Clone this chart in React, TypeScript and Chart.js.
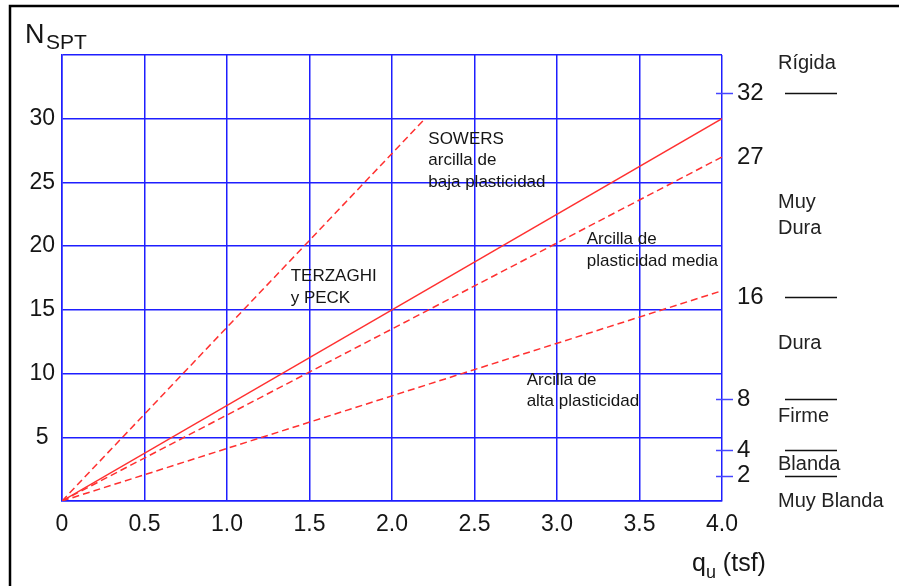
import React, { useEffect, useRef } from 'react';
import { Chart, registerables } from 'chart.js';

Chart.register(...registerables);

// ---- data ----
const quTicksMax = 4.0;
const nMax = 35;

const sowersQu = [0, 2.2];
const sowersN = [0, 30];
const terzaghiQu = [0, 4.0];
const terzaghiN = [0, 30];
const mediaQu = [0, 4.0];
const mediaN = [0, 27];
const altaQu = [0, 4.0];
const altaN = [0, 16.5];

const rightTickValues = [32, 27, 16, 8, 4, 2];
const rightTickMarks = [32, 8, 4, 2];

const consistencyBounds = [32, 16, 8, 4, 2];
const consistencyLabels: (string | string[])[] = ['Rígida', ['Muy', 'Dura'], 'Dura', 'Firme', 'Blanda', 'Muy Blanda'];
const consistencyLabelN = [34.3, 22.4, 12.4, 6.6, 2.9, 0];

const curveLabels: string[][] = [
  ['SOWERS', 'arcilla de', 'baja plasticidad'],
  ['TERZAGHI', 'y PECK'],
  ['Arcilla de', 'plasticidad media'],
  ['Arcilla de', 'alta plasticidad'],
];
const curveLabelQu = [2.22, 1.386, 3.18, 2.816];
const curveLabelN = [28.4, 17.6, 20.5, 9.5];

// ---- styles ----
const FONT = '"Liberation Sans", Arial, sans-serif';
const BLUE = 'rgb(30,30,255)';
const RED = '#ff3030';
const TEXT = '#151515';

const toPts = (xs: number[], ys: number[]) => xs.map((x, i) => ({ x, y: ys[i] }));

const overlayPlugin = {
  id: 'overlay',
  afterDraw(chart: any) {
    const { ctx, chartArea, scales } = chart;
    const xs = scales.x;
    const ys = scales.y;
    const y2 = scales.y2;
    ctx.save();

    // frame
    ctx.strokeStyle = '#000';
    ctx.lineWidth = 2.5;
    ctx.beginPath();
    ctx.moveTo(10, 586);
    ctx.lineTo(10, 6);
    ctx.lineTo(899, 6);
    ctx.stroke();

    // axis titles
    ctx.fillStyle = TEXT;
    ctx.textAlign = 'left';
    ctx.textBaseline = 'alphabetic';
    ctx.font = `27px ${FONT}`;
    ctx.fillText('N', 25, 43);
    ctx.font = `21px ${FONT}`;
    ctx.fillText('SPT', 46, 49);

    ctx.font = `25px ${FONT}`;
    ctx.fillText('q', 692, 571);
    const qw = ctx.measureText('q').width;
    ctx.font = `18px ${FONT}`;
    ctx.fillText('u', 692 + qw, 578);
    const uw = ctx.measureText('u').width;
    ctx.font = `25px ${FONT}`;
    ctx.fillText(' (tsf)', 692 + qw + uw, 571);

    // right axis tick marks crossing axis
    ctx.strokeStyle = 'rgb(70,70,255)';
    ctx.lineWidth = 1.5;
    rightTickMarks.forEach((v) => {
      const py = Math.round(y2.getPixelForValue(v)) + 0.5;
      ctx.beginPath();
      ctx.moveTo(chartArea.right - 6, py);
      ctx.lineTo(chartArea.right + 11, py);
      ctx.stroke();
    });

    // consistency separators
    ctx.strokeStyle = '#111';
    ctx.lineWidth = 1.5;
    consistencyBounds.forEach((v) => {
      const py = Math.round(y2.getPixelForValue(v)) + 0.5;
      ctx.beginPath();
      ctx.moveTo(chartArea.right + 63, py);
      ctx.lineTo(chartArea.right + 115, py);
      ctx.stroke();
    });

    // consistency labels
    ctx.font = `20px ${FONT}`;
    ctx.fillStyle = '#222';
    ctx.textBaseline = 'middle';
    consistencyLabels.forEach((lab, i) => {
      const lines = Array.isArray(lab) ? lab : [lab];
      const cy = y2.getPixelForValue(consistencyLabelN[i]);
      const lh = 26;
      lines.forEach((t, j) => {
        const py = cy + (j - (lines.length - 1) / 2) * lh;
        ctx.fillText(t, chartArea.right + 56, py);
      });
    });

    // curve labels
    ctx.font = `17px ${FONT}`;
    ctx.fillStyle = TEXT;
    curveLabels.forEach((lines, i) => {
      const px = xs.getPixelForValue(curveLabelQu[i]);
      const py = ys.getPixelForValue(curveLabelN[i]);
      lines.forEach((t, j) => ctx.fillText(t, px, py + j * 21.5));
    });

    ctx.restore();
  },
};

export default function App() {
  const ref = useRef<HTMLCanvasElement>(null);

  useEffect(() => {
    if (!ref.current) return;
    Chart.defaults.font.family = FONT;
    const lineDs = (label: string, xs: number[], ys: number[], dashed: boolean) => ({
      label,
      data: toPts(xs, ys),
      borderColor: RED,
      borderWidth: 1.5,
      borderDash: dashed ? [7, 4] : [],
      pointRadius: 0,
      fill: false,
      tension: 0,
    });
    const chart = new Chart(ref.current, {
      type: 'line',
      data: {
        datasets: [
          lineDs('Sowers', sowersQu, sowersN, true),
          lineDs('Terzaghi y Peck', terzaghiQu, terzaghiN, false),
          lineDs('Plasticidad media', mediaQu, mediaN, true),
          lineDs('Alta plasticidad', altaQu, altaN, true),
        ],
      },
      options: {
        animation: false,
        responsive: false,
        maintainAspectRatio: false,
        layout: { padding: { top: 55, left: 0, right: 0, bottom: 0 } },
        plugins: { legend: { display: false }, tooltip: { enabled: false }, title: { display: false } },
        scales: {
          x: {
            type: 'linear',
            position: 'bottom',
            min: 0,
            max: quTicksMax,
            afterFit: (s: any) => { s.height = 85; },
            ticks: {
              stepSize: 0.5,
              autoSkip: false,
              maxRotation: 0,
              padding: 10,
              color: TEXT,
              font: { size: 23, family: FONT },
              callback: (v: any) => (Number(v) === 0 ? '0' : Number(v).toFixed(1)),
            },
            grid: { color: BLUE, lineWidth: 1.5, drawTicks: false },
            border: { color: BLUE, width: 1.5 },
          },
          y: {
            type: 'linear',
            position: 'left',
            min: 0,
            max: nMax,
            afterFit: (s: any) => { s.width = 62; },
            ticks: {
              stepSize: 5,
              autoSkip: false,
              crossAlign: 'center',
              padding: 7,
              color: TEXT,
              font: { size: 23, family: FONT },
              callback: (v: any) => (Number(v) === 0 || Number(v) === nMax ? '' : String(v)),
            },
            grid: { color: BLUE, lineWidth: 1.5, drawTicks: false },
            border: { color: BLUE, width: 1.5 },
          },
          y2: {
            type: 'linear',
            position: 'right',
            min: 0,
            max: nMax,
            afterFit: (s: any) => { s.width = 177; },
            afterBuildTicks: (s: any) => { s.ticks = rightTickValues.map((v) => ({ value: v })); },
            ticks: {
              autoSkip: false,
              padding: 15,
              color: TEXT,
              font: { size: 24, family: FONT },
            },
            grid: { drawOnChartArea: false, drawTicks: false },
            border: { display: false },
          },
        },
      },
      plugins: [overlayPlugin],
    } as any);
    return () => chart.destroy();
  }, []);

  return (
    <div style={{ position: 'fixed', left: 0, top: 0, width: 899, height: 586, background: '#fff' }}>
      <canvas ref={ref} width={899} height={586} style={{ width: 899, height: 586, display: 'block' }} />
    </div>
  );
}
